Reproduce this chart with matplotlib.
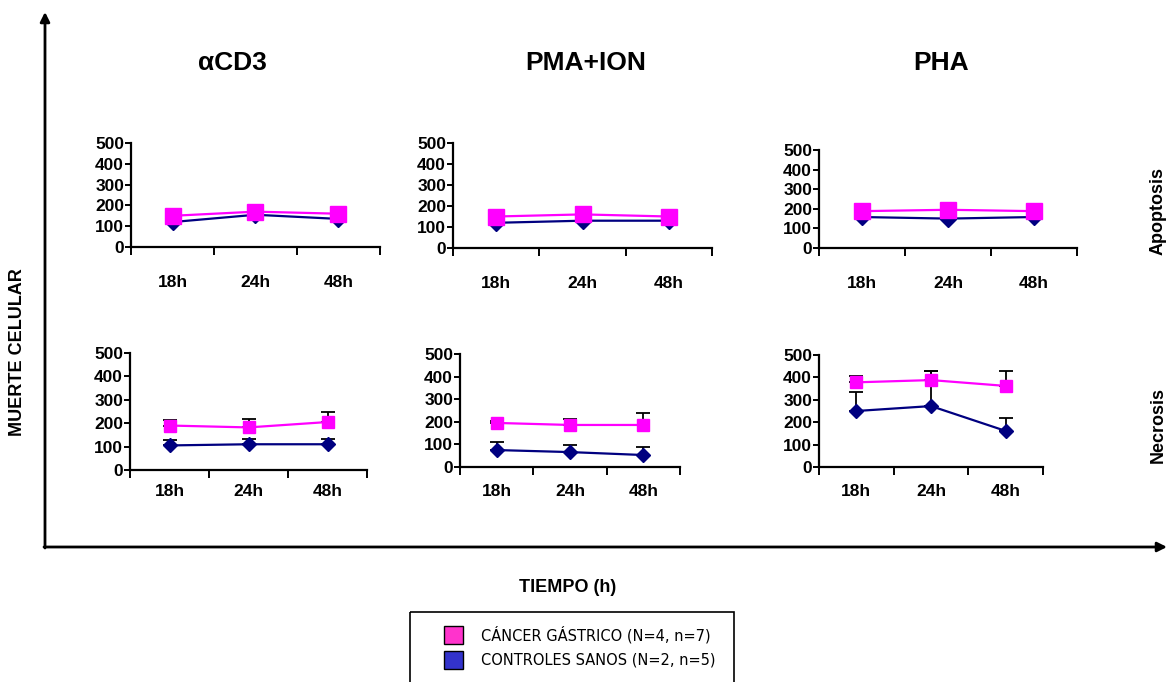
import numpy as np
import matplotlib
matplotlib.use("Agg")
import matplotlib.pyplot as plt
from matplotlib.patches import Rectangle

W, H = 1168, 682
plt.rcParams['font.family'] = ['Liberation Sans', 'DejaVu Sans']

times = ["18h", "24h", "48h"]
stimuli = ["\u03b1CD3", "PMA+ION", "PHA"]
rows = ["Apoptosis", "Necrosis"]
series_names = ["CÁNCER GÁSTRICO (N=4, n=7)", "CONTROLES SANOS (N=2, n=5)"]

# Apoptosis
apo_cd3_cancer = [150, 170, 160]
apo_cd3_cancer_err = [10, 22, 15]
apo_cd3_ctrl = [120, 155, 135]
apo_cd3_ctrl_err = [8, 10, 8]
apo_pma_cancer = [150, 160, 150]
apo_pma_cancer_err = [8, 10, 8]
apo_pma_ctrl = [120, 130, 130]
apo_pma_ctrl_err = [5, 5, 5]
apo_pha_cancer = [188, 195, 188]
apo_pha_cancer_err = [12, 28, 35]
apo_pha_ctrl = [158, 150, 158]
apo_pha_ctrl_err = [8, 8, 8]
# Necrosis
nec_cd3_cancer = [190, 182, 205]
nec_cd3_cancer_err = [22, 35, 45]
nec_cd3_ctrl = [105, 110, 110]
nec_cd3_ctrl_err = [22, 22, 22]
nec_pma_cancer = [195, 186, 186]
nec_pma_cancer_err = [10, 25, 55]
nec_pma_ctrl = [75, 66, 53]
nec_pma_ctrl_err = [35, 30, 35]
nec_pha_cancer = [378, 388, 362]
nec_pha_cancer_err = [28, 40, 65]
nec_pha_ctrl = [250, 272, 161]
nec_pha_ctrl_err = [85, 155, 58]

PINK = '#FF00FF'
NAVY = '#000080'

fig = plt.figure(figsize=(W / 100, H / 100), dpi=100)

bg = fig.add_axes([0, 0, 1, 1], zorder=0)
bg.set_xlim(0, W)
bg.set_ylim(H, 0)
bg.axis('off')


def panel(rect, cancer, cancer_err, ctrl, ctrl_err, lab_pad, msq, mdi):
    l, t, r, b = rect
    ax = fig.add_axes([l / W, 1 - b / H, (r - l) / W, (b - t) / H], zorder=2)
    ax.patch.set_alpha(0)
    x = np.arange(len(times)) + 0.5
    z = np.zeros(len(times))
    ax.errorbar(x, cancer, yerr=[z, cancer_err], fmt='none', ecolor='black',
                elinewidth=1.3, capsize=5, capthick=1.3, zorder=2, clip_on=False)
    ax.errorbar(x, ctrl, yerr=[z, ctrl_err], fmt='none', ecolor='black',
                elinewidth=1.3, capsize=5, capthick=1.3, zorder=2, clip_on=False)
    ax.plot(x, ctrl, color=NAVY, lw=1.6, marker='D', ms=mdi, mfc=NAVY, mec=NAVY,
            zorder=3, clip_on=False)
    ax.plot(x, cancer, color=PINK, lw=1.6, marker='s', ms=msq, mfc=PINK, mec=PINK,
            zorder=4, clip_on=False)
    ax.set_xlim(0, 3)
    ax.set_ylim(0, 500)
    for s in ['top', 'right']:
        ax.spines[s].set_visible(False)
    for s in ['left', 'bottom']:
        ax.spines[s].set_linewidth(1.6)
    ax.set_yticks(range(0, 501, 100))
    ax.set_yticklabels([str(v) for v in range(0, 501, 100)], fontsize=12.5,
                       fontweight='bold')
    ax.tick_params(axis='y', direction='out', length=4, width=1.4, pad=1)
    ax.set_xticks([0, 1, 2, 3])
    ax.set_xticklabels([])
    ax.tick_params(axis='x', which='major', direction='out', length=6, width=1.4)
    ax.set_xticks(x, minor=True)
    ax.set_xticklabels(times, minor=True, fontsize=12.5, fontweight='bold')
    ax.tick_params(axis='x', which='minor', length=0, pad=lab_pad)
    return ax


panel((131, 143, 380, 247), apo_cd3_cancer, apo_cd3_cancer_err, apo_cd3_ctrl, apo_cd3_ctrl_err, 20, 11, 8)
panel((453, 143, 712, 248), apo_pma_cancer, apo_pma_cancer_err, apo_pma_ctrl, apo_pma_ctrl_err, 20, 11, 8)
panel((819, 150, 1077, 248), apo_pha_cancer, apo_pha_cancer_err, apo_pha_ctrl, apo_pha_ctrl_err, 20, 11, 8)
panel((130, 353, 367, 470), nec_cd3_cancer, nec_cd3_cancer_err, nec_cd3_ctrl, nec_cd3_ctrl_err, 10, 8.5, 7.5)
panel((460, 354, 680, 467), nec_pma_cancer, nec_pma_cancer_err, nec_pma_ctrl, nec_pma_ctrl_err, 12, 8.5, 7.5)
panel((819, 355, 1043, 467), nec_pha_cancer, nec_pha_cancer_err, nec_pha_ctrl, nec_pha_ctrl_err, 12, 8.5, 7.5)

# Column titles
for xc, name in zip([232, 586, 941], stimuli):
    bg.text(xc, 63, name, ha='center', va='center', fontsize=19, fontweight='bold')

# Row labels
for yc, name in zip([211, 425], rows):
    bg.text(1158, yc, name, ha='center', va='center', rotation=90,
            fontsize=13, fontweight='bold')

bg.text(18, 352, "MUERTE CELULAR", ha='center', va='center', rotation=90,
        fontsize=13, fontweight='bold')
bg.text(568, 588, "TIEMPO (h)", ha='center', va='center', fontsize=13,
        fontweight='bold')

# Big arrow axes
bg.annotate('', xy=(45, 12), xytext=(45, 548), annotation_clip=False,
            arrowprops=dict(arrowstyle='-|>', color='black', lw=2,
                            mutation_scale=14, shrinkA=0, shrinkB=0))
bg.annotate('', xy=(1167, 547), xytext=(44, 547), annotation_clip=False,
            arrowprops=dict(arrowstyle='-|>', color='black', lw=2,
                            mutation_scale=14, shrinkA=0, shrinkB=0))

# Legend box
bg.add_patch(Rectangle((410, 612), 324, 80, fill=False, ec='black', lw=1.2,
                       clip_on=False))
leg_colors = ['#FF33CC', '#3333CC']
for yc, col, name in zip([635, 660], leg_colors, series_names):
    bg.add_patch(Rectangle((444, yc - 9), 19, 18, fc=col, ec='black', lw=1))
    bg.text(481, yc, name, ha='left', va='center', fontsize=11.7,
            fontstretch='condensed',
            family=['Liberation Sans Narrow', 'DejaVu Sans'])

fig.savefig('out.png', dpi=100)
